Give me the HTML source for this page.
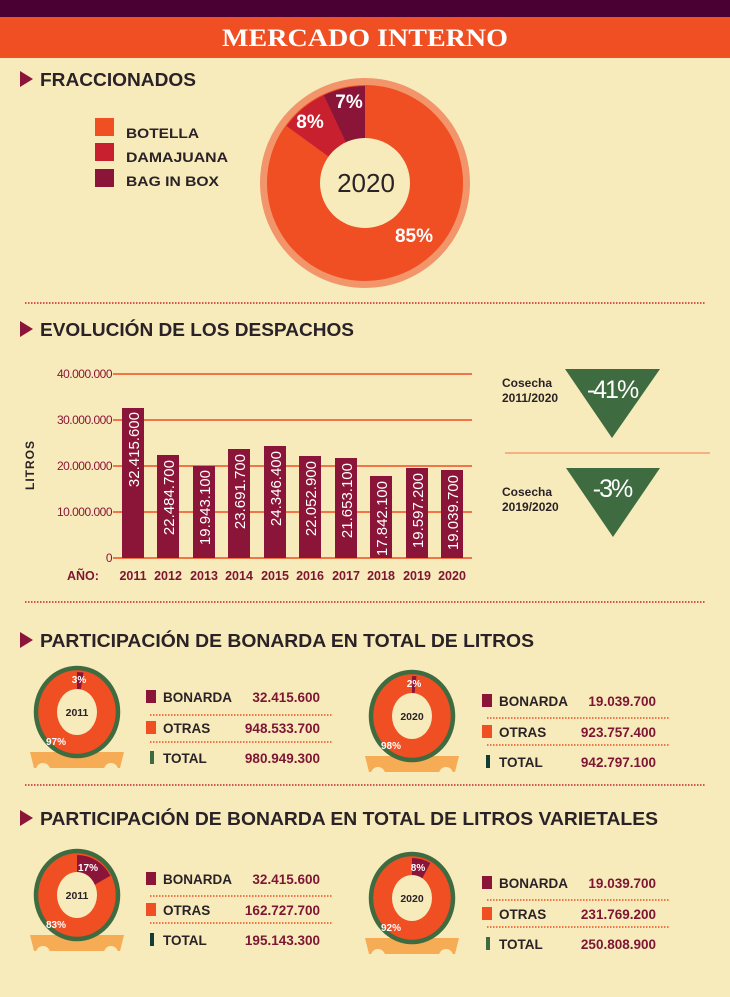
<!DOCTYPE html>
<html><head><meta charset="utf-8"><style>
html,body{margin:0;padding:0;background:#f7ebbb;}
svg{display:block}
text{font-family:"Liberation Sans",sans-serif;}
.h{font-weight:bold;font-size:18px;fill:#2a2226;}
.lg{font-weight:bold;font-size:13.5px;fill:#2a2226;}
.v{font-weight:bold;font-size:13.5px;fill:#7d1533;}
.yl{font-size:12px;fill:#8b1538;letter-spacing:-0.5px}
.bl{font-size:15px;fill:#fff;}
.xl{font-size:12.5px;font-weight:bold;fill:#7d1533;}
</style></head><body>
<svg width="730" height="997" viewBox="0 0 730 997" xmlns="http://www.w3.org/2000/svg">
<defs>
<g id="base">
  <path d="M-47 40 L-43 56 L43 56 L47 40 Z" fill="#f6ab55"/>
  <circle cx="-34" cy="58" r="7" fill="#f7ebbb"/>
  <circle cx="34" cy="58" r="7" fill="#f7ebbb"/>
</g>
</defs>
<rect width="730" height="997" fill="#f7ebbb"/>
<rect width="730" height="17" fill="#4a0033"/>
<rect y="17" width="730" height="41" fill="#f04e23"/>
<text x="222" y="46" textLength="286" lengthAdjust="spacingAndGlyphs" style="font-family:'Liberation Serif',serif;font-weight:bold;font-size:25px" fill="#fff">MERCADO INTERNO</text>

<!-- FRACCIONADOS -->
<polygon points="20,71 33,79 20,87" fill="#8b1538"/>
<text x="40" y="86" class="h" textLength="156" lengthAdjust="spacingAndGlyphs">FRACCIONADOS</text>
<rect x="95" y="118" width="19" height="18" fill="#f04e23"/>
<rect x="95" y="143" width="19" height="18" fill="#c8202f"/>
<rect x="95" y="169" width="19" height="18" fill="#8b1538"/>
<text x="126" y="138" class="lg" textLength="73" lengthAdjust="spacingAndGlyphs">BOTELLA</text>
<text x="126" y="162" class="lg" textLength="102" lengthAdjust="spacingAndGlyphs">DAMAJUANA</text>
<text x="126" y="186" class="lg" textLength="93" lengthAdjust="spacingAndGlyphs">BAG IN BOX</text>
<circle cx="365" cy="183" r="105" fill="#f3956a"/>
<circle cx="365" cy="183" r="98" fill="#f04e23"/>
<path d="M365 183 L286.5 126 A97 97 0 0 1 323.7 95.2 Z" fill="#c8202f"/>
<path d="M365 183 L323.7 95.2 A97 97 0 0 1 365 86 Z" fill="#8b1538"/>
<circle cx="365" cy="183" r="45" fill="#f7ebbb"/>
<text x="366" y="192" text-anchor="middle" font-size="26" fill="#2a2226">2020</text>
<text x="349" y="108" text-anchor="middle" font-size="19" font-weight="bold" fill="#fff">7%</text>
<text x="310" y="128" text-anchor="middle" font-size="19" font-weight="bold" fill="#fff">8%</text>
<text x="414" y="242" text-anchor="middle" font-size="19" font-weight="bold" fill="#fff">85%</text>

<line x1="25" y1="303" x2="705" y2="303" stroke="#c8202f" stroke-width="1.5" stroke-dasharray="1.5,1.5"/>

<!-- EVOLUCION -->
<polygon points="20,321 33,329 20,337" fill="#8b1538"/>
<text x="40" y="336" class="h" textLength="314" lengthAdjust="spacingAndGlyphs">EVOLUCIÓN DE LOS DESPACHOS</text>
<g stroke="#f04e23" stroke-width="1.5">
<line x1="113" y1="374" x2="472" y2="374"/>
<line x1="113" y1="420" x2="472" y2="420"/>
<line x1="113" y1="466" x2="472" y2="466"/>
<line x1="113" y1="512" x2="472" y2="512"/>
<line x1="113" y1="558" x2="472" y2="558"/>
</g>
<g text-anchor="end">
<text x="112" y="378" class="yl">40.000.000</text>
<text x="112" y="424" class="yl">30.000.000</text>
<text x="112" y="470" class="yl">20.000.000</text>
<text x="112" y="516" class="yl">10.000.000</text>
<text x="112" y="562" class="yl">0</text>
</g>
<text transform="translate(34,465) rotate(-90)" text-anchor="middle" font-size="12" font-weight="bold" fill="#2a2226" letter-spacing="1">LITROS</text>
<g fill="#8b1538">
<rect x="122" y="408" width="22" height="150"/>
<rect x="157" y="455" width="22" height="103"/>
<rect x="193" y="466" width="22" height="92"/>
<rect x="228" y="449" width="22" height="109"/>
<rect x="264" y="446" width="22" height="112"/>
<rect x="299" y="456" width="22" height="102"/>
<rect x="335" y="458" width="22" height="100"/>
<rect x="370" y="476" width="22" height="82"/>
<rect x="406" y="468" width="22" height="90"/>
<rect x="441" y="470" width="22" height="88"/>
</g>
<g class="bl">
<text transform="translate(139,412) rotate(-90)" text-anchor="end" class="bl">32.415.600</text>
<text transform="translate(174,460) rotate(-90)" text-anchor="end" class="bl">22.484.700</text>
<text transform="translate(210,470) rotate(-90)" text-anchor="end" class="bl">19.943.100</text>
<text transform="translate(245,454) rotate(-90)" text-anchor="end" class="bl">23.691.700</text>
<text transform="translate(281,451) rotate(-90)" text-anchor="end" class="bl">24.346.400</text>
<text transform="translate(316,461) rotate(-90)" text-anchor="end" class="bl">22.052.900</text>
<text transform="translate(352,463) rotate(-90)" text-anchor="end" class="bl">21.653.100</text>
<text transform="translate(387,481) rotate(-90)" text-anchor="end" class="bl">17.842.100</text>
<text transform="translate(423,473) rotate(-90)" text-anchor="end" class="bl">19.597.200</text>
<text transform="translate(458,475) rotate(-90)" text-anchor="end" class="bl">19.039.700</text>
</g>
<text x="67" y="580" class="xl" font-size="14">AÑO:</text>
<g text-anchor="middle" class="xl">
<text x="133" y="580">2011</text><text x="168" y="580">2012</text><text x="204" y="580">2013</text>
<text x="239" y="580">2014</text><text x="275" y="580">2015</text><text x="310" y="580">2016</text>
<text x="346" y="580">2017</text><text x="381" y="580">2018</text><text x="417" y="580">2019</text>
<text x="452" y="580">2020</text>
</g>
<text x="502" y="387" font-size="12" font-weight="bold" fill="#2a2226">Cosecha</text>
<text x="502" y="402" font-size="12" font-weight="bold" fill="#2a2226">2011/2020</text>
<polygon points="565,369 660,369 612,438" fill="#3e6b3f"/>
<text x="612" y="398" text-anchor="middle" font-size="25" fill="#fff" letter-spacing="-2">-41%</text>
<line x1="505" y1="453" x2="710" y2="453" stroke="#f3a070" stroke-width="1.5"/>
<text x="502" y="496" font-size="12" font-weight="bold" fill="#2a2226">Cosecha</text>
<text x="502" y="511" font-size="12" font-weight="bold" fill="#2a2226">2019/2020</text>
<polygon points="566,468 660,468 613,537" fill="#3e6b3f"/>
<text x="612" y="497" text-anchor="middle" font-size="25" fill="#fff" letter-spacing="-2">-3%</text>

<line x1="25" y1="602" x2="705" y2="602" stroke="#c8202f" stroke-width="1.5" stroke-dasharray="1.5,1.5"/>

<!-- SECTION 3 -->
<polygon points="20,632 33,640 20,648" fill="#8b1538"/>
<text x="40" y="647" class="h" textLength="494" lengthAdjust="spacingAndGlyphs">PARTICIPACIÓN DE BONARDA EN TOTAL DE LITROS</text>

<g transform="translate(77,712)">
<use href="#base"/>
<ellipse rx="41" ry="44" fill="#f04e23" stroke="#3e6b3f" stroke-width="4.5"/>
<path d="M0 0 L0 -40 L6.5 -39.5 Z" fill="#8b1538"/>
<ellipse rx="20" ry="23" fill="#f7ebbb"/>
<text y="4" text-anchor="middle" font-size="10.5" font-weight="bold" fill="#2a2226">2011</text>
<text x="2" y="-29" text-anchor="middle" font-size="10" font-weight="bold" fill="#fff">3%</text>
<text x="-21" y="33" text-anchor="middle" font-size="10" font-weight="bold" fill="#fff">97%</text>
</g>
<g transform="translate(412,716)">
<use href="#base"/>
<ellipse rx="41" ry="44" fill="#f04e23" stroke="#3e6b3f" stroke-width="4.5"/>
<path d="M0 0 L0 -40 L4.5 -39.7 Z" fill="#8b1538"/>
<ellipse rx="20" ry="23" fill="#f7ebbb"/>
<text y="4" text-anchor="middle" font-size="10.5" font-weight="bold" fill="#2a2226">2020</text>
<text x="2" y="-29" text-anchor="middle" font-size="10" font-weight="bold" fill="#fff">2%</text>
<text x="-21" y="33" text-anchor="middle" font-size="10" font-weight="bold" fill="#fff">98%</text>
</g>

<g>
<rect x="146" y="690" width="10" height="13" fill="#8b1538"/>
<rect x="146" y="721" width="10" height="13" fill="#f04e23"/>
<rect x="150" y="751" width="4" height="13" fill="#3e6b3f"/>
<text x="163" y="702" class="lg">BONARDA</text><text x="320" y="702" class="v" text-anchor="end">32.415.600</text>
<text x="163" y="733" class="lg">OTRAS</text><text x="320" y="733" class="v" text-anchor="end">948.533.700</text>
<text x="163" y="763" class="lg">TOTAL</text><text x="320" y="763" class="v" text-anchor="end">980.949.300</text>
<line x1="150" y1="715" x2="333" y2="715" stroke="#f04e23" stroke-width="1.5" stroke-dasharray="1.5,1.5"/>
<line x1="150" y1="742" x2="333" y2="742" stroke="#f04e23" stroke-width="1.5" stroke-dasharray="1.5,1.5"/>
</g>
<g>
<rect x="482" y="694" width="10" height="13" fill="#8b1538"/>
<rect x="482" y="725" width="10" height="13" fill="#f04e23"/>
<rect x="486" y="755" width="4" height="13" fill="#123c36"/>
<text x="499" y="706" class="lg">BONARDA</text><text x="656" y="706" class="v" text-anchor="end">19.039.700</text>
<text x="499" y="737" class="lg">OTRAS</text><text x="656" y="737" class="v" text-anchor="end">923.757.400</text>
<text x="499" y="767" class="lg">TOTAL</text><text x="656" y="767" class="v" text-anchor="end">942.797.100</text>
<line x1="487" y1="718" x2="670" y2="718" stroke="#f04e23" stroke-width="1.5" stroke-dasharray="1.5,1.5"/>
<line x1="487" y1="745" x2="670" y2="745" stroke="#f04e23" stroke-width="1.5" stroke-dasharray="1.5,1.5"/>
</g>

<line x1="25" y1="785" x2="705" y2="785" stroke="#c8202f" stroke-width="1.5" stroke-dasharray="1.5,1.5"/>

<!-- SECTION 4 -->
<polygon points="20,810 33,818 20,826" fill="#8b1538"/>
<text x="40" y="825" class="h" textLength="618" lengthAdjust="spacingAndGlyphs">PARTICIPACIÓN DE BONARDA EN TOTAL DE LITROS VARIETALES</text>

<g transform="translate(77,895)">
<use href="#base"/>
<ellipse rx="41" ry="44" fill="#f04e23" stroke="#3e6b3f" stroke-width="4.5"/>
<path d="M0 0 L0 -40 A38 40 0 0 1 33.3 -19.3 Z" fill="#8b1538"/>
<ellipse rx="20" ry="23" fill="#f7ebbb"/>
<text y="4" text-anchor="middle" font-size="10.5" font-weight="bold" fill="#2a2226">2011</text>
<text x="11" y="-24" text-anchor="middle" font-size="10" font-weight="bold" fill="#fff">17%</text>
<text x="-21" y="33" text-anchor="middle" font-size="10" font-weight="bold" fill="#fff">83%</text>
</g>
<g transform="translate(412,898)">
<use href="#base"/>
<ellipse rx="41" ry="44" fill="#f04e23" stroke="#3e6b3f" stroke-width="4.5"/>
<path d="M0 0 L0 -40 A38 40 0 0 1 18.3 -35 Z" fill="#8b1538"/>
<ellipse rx="20" ry="23" fill="#f7ebbb"/>
<text y="4" text-anchor="middle" font-size="10.5" font-weight="bold" fill="#2a2226">2020</text>
<text x="6" y="-27" text-anchor="middle" font-size="10" font-weight="bold" fill="#fff">8%</text>
<text x="-21" y="33" text-anchor="middle" font-size="10" font-weight="bold" fill="#fff">92%</text>
</g>

<g>
<rect x="146" y="872" width="10" height="13" fill="#8b1538"/>
<rect x="146" y="903" width="10" height="13" fill="#f04e23"/>
<rect x="150" y="933" width="4" height="13" fill="#123c36"/>
<text x="163" y="884" class="lg">BONARDA</text><text x="320" y="884" class="v" text-anchor="end">32.415.600</text>
<text x="163" y="915" class="lg">OTRAS</text><text x="320" y="915" class="v" text-anchor="end">162.727.700</text>
<text x="163" y="945" class="lg">TOTAL</text><text x="320" y="945" class="v" text-anchor="end">195.143.300</text>
<line x1="150" y1="896" x2="333" y2="896" stroke="#f04e23" stroke-width="1.5" stroke-dasharray="1.5,1.5"/>
<line x1="150" y1="923" x2="333" y2="923" stroke="#f04e23" stroke-width="1.5" stroke-dasharray="1.5,1.5"/>
</g>
<g>
<rect x="482" y="876" width="10" height="13" fill="#8b1538"/>
<rect x="482" y="907" width="10" height="13" fill="#f04e23"/>
<rect x="486" y="937" width="4" height="13" fill="#3e6b3f"/>
<text x="499" y="888" class="lg">BONARDA</text><text x="656" y="888" class="v" text-anchor="end">19.039.700</text>
<text x="499" y="919" class="lg">OTRAS</text><text x="656" y="919" class="v" text-anchor="end">231.769.200</text>
<text x="499" y="949" class="lg">TOTAL</text><text x="656" y="949" class="v" text-anchor="end">250.808.900</text>
<line x1="487" y1="900" x2="670" y2="900" stroke="#f04e23" stroke-width="1.5" stroke-dasharray="1.5,1.5"/>
<line x1="487" y1="927" x2="670" y2="927" stroke="#f04e23" stroke-width="1.5" stroke-dasharray="1.5,1.5"/>
</g>
</svg>
</body></html>
